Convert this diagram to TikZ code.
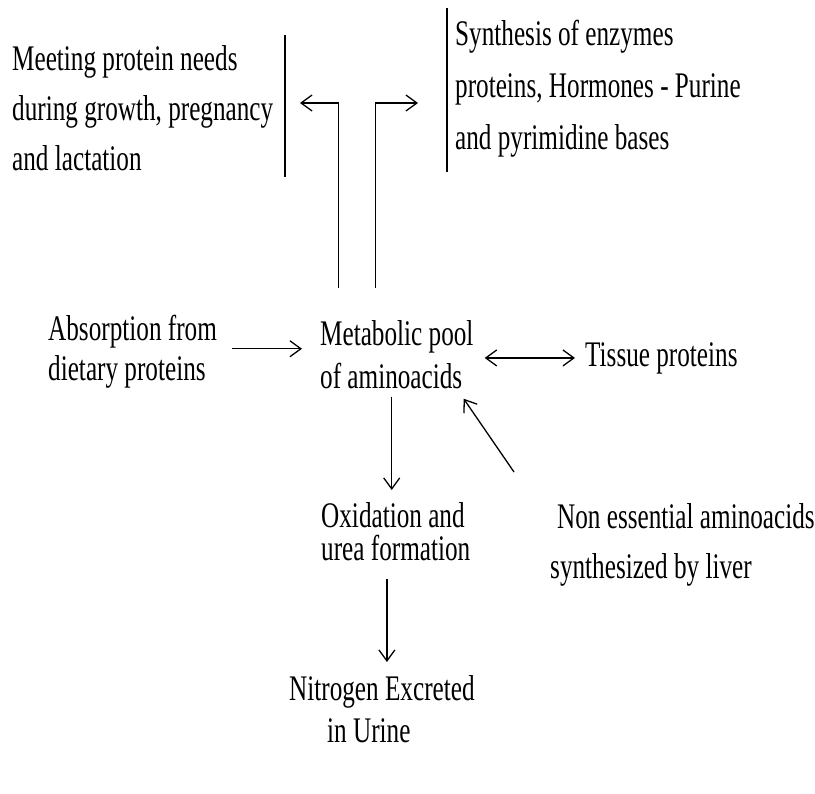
\documentclass[tikz,border=0pt]{standalone}
\usepackage{fontspec}
\setmainfont{Liberation Serif}[FakeStretch=0.7]
\usetikzlibrary{arrows.meta, positioning, calc}
\tikzset{
    textblock/.style={anchor=north west, inner sep=0pt, align=left, font=\fontsize{36}{#1}\selectfont},
    arrow/.style={-{Straight Barb[length=11pt,width=16pt]}, line width=1.3pt},
    dblarrow/.style={{Straight Barb[length=11pt,width=16pt]}-{Straight Barb[length=11pt,width=16pt]}, line width=1.3pt},
    bar/.style={line width=1.3pt},
}
\begin{document}
\begin{tikzpicture}[x=1pt,y=-1pt]
    \useasboundingbox[fill=white] (0,0) rectangle (815,794);
    \node[textblock=50] (needs) at (12,45) {Meeting protein needs\\during growth, pregnancy\\and lactation};
    \node[textblock=52] (synth) at (455,20) {Synthesis of enzymes\\proteins, Hormones - Purine\\and pyrimidine bases};
    \node[textblock=40] (absorb) at (48,315) {Absorption from\\dietary proteins};
    \node[textblock=43] (pool) at (320,320) {Metabolic pool\\of aminoacids};
    \node[textblock=50] (tissue) at (585,342) {Tissue proteins};
    \node[textblock=33] (oxid) at (321,502) {Oxidation and\\urea formation};
    \node[textblock=50] (liver) at (550,503) {\hspace*{7pt}Non essential aminoacids\\synthesized by liver};
    \node[textblock=42] (urine) at (289,675) {Nitrogen Excreted\\\hspace*{38pt}in Urine};
    \coordinate (needsBarTop) at (285,35);
    \coordinate (needsBarBot) at (285,177);
    \coordinate (synthBarTop) at (447,8);
    \coordinate (synthBarBot) at (447,172);
    \coordinate (needsTip) at (300,103);
    \coordinate (synthTip) at (418,103);
    \draw[bar] (needsBarTop) -- (needsBarBot);
    \draw[bar] (synthBarTop) -- (synthBarBot);
    \draw[arrow] ([xshift=-58pt,yshift=32pt]pool.north) |- (needsTip);
    \draw[arrow] ([xshift=-21pt,yshift=32pt]pool.north) |- (synthTip);
    \draw[arrow, shorten <=15pt, shorten >=18pt] ([yshift=3pt]absorb.east) -- ([yshift=3pt]absorb.east -| pool.west);
    \draw[dblarrow, shorten <=11pt, shorten >=10pt] (pool.east |- tissue.west) -- (tissue.west);
    \draw[arrow, shorten <=8pt, shorten >=12pt] ([xshift=-4pt]oxid.north |- pool.south) -- ([xshift=-4pt]oxid.north);
    \draw[arrow, shorten <=18pt, shorten >=13pt] ([xshift=5pt]urine.north |- oxid.south) -- ([xshift=5pt]urine.north);
    \draw[arrow] ($(liver.north west)+(-36,-31)$) -- ($(pool.south east)+(-10,10)$);
\end{tikzpicture}
\end{document}
